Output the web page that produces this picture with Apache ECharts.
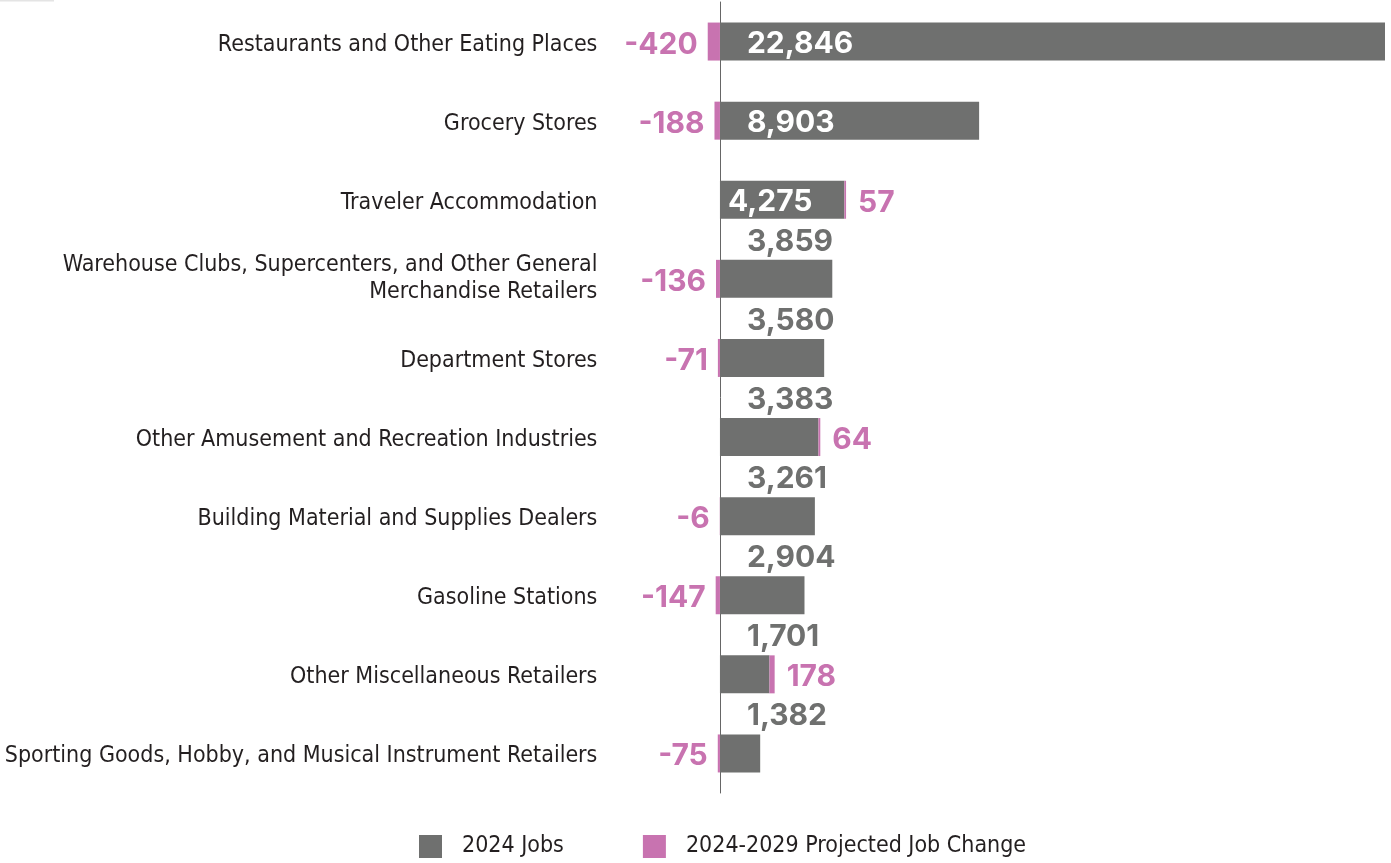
<!DOCTYPE html>
<html>
<head>
<meta charset="utf-8">
<script src="https://cdn.jsdelivr.net/npm/echarts@6/dist/echarts.min.js"></script>
<style>
  html, body { margin: 0; padding: 0; background: #fff; }
  #chart { width: 1391px; height: 863px; }
</style>
</head>
<body>
<div id="chart"></div>
<script>
// data
const categories = [
  'Restaurants and Other Eating Places',
  'Grocery Stores',
  'Traveler Accommodation',
  'Warehouse Clubs, Supercenters, and Other General\nMerchandise Retailers',
  'Department Stores',
  'Other Amusement and Recreation Industries',
  'Building Material and Supplies Dealers',
  'Gasoline Stations',
  'Other Miscellaneous Retailers',
  'Sporting Goods, Hobby, and Musical Instrument Retailers'
]
const jobs2024 = [22846, 8903, 4275, 3859, 3580, 3383, 3261, 2904, 1701, 1382]
const jobChange = [-420, -188, 57, -136, -71, 64, -6, -147, 178, -75]
const seriesNames = ['2024 Jobs', '2024-2029 Projected Job Change']

const GRAY = '#6f706f'
const PINK = '#c873b0'
const labelFont = 'Inter'
const catFont = '"Noto Sans Condensed", "DejaVu Sans Condensed", "Roboto"'

const fmt = v => v.toLocaleString('en-US')

// big bars get the number inside, small ones above the bar
const jobsData = jobs2024.map(v => {
  let label
  if (v > 8000) {
    label = { position: [27, '50%'], color: '#fff', offset: [0, 2] }
  } else if (v > 4000) {
    label = { position: [8, '50%'], color: '#fff', offset: [0, 2] }
  } else {
    label = { position: [27, -18], color: GRAY }
  }
  return { value: v, label }
})

const changeData = jobChange.map(v => ({
  value: v,
  label: { position: v < 0 ? 'left' : 'right', distance: v < 0 ? 10 : 12 }
}))

const chart = echarts.init(document.getElementById('chart'))

chart.setOption({
  animation: false,
  backgroundColor: '#fff',
  graphic: [
    { type: 'rect', left: 0, top: 0, shape: { width: 54, height: 1.5 }, style: { fill: '#e4e4e4' } }
  ],
  grid: {
    left: 705.4,
    right: 6,
    top: 2,
    bottom: 70,
    outerBoundsMode: 'none'
  },
  legend: {
    data: seriesNames,
    left: 414,
    top: 830,
    icon: 'rect',
    itemWidth: 23,
    itemHeight: 23,
    itemGap: 79,
    textStyle: {
      fontFamily: catFont,
      fontSize: 23,
      color: '#231f20',
      padding: [2, 0, 0, 15]
    }
  },
  xAxis: {
    type: 'value',
    min: -500,
    max: 22846,
    show: false
  },
  yAxis: {
    type: 'category',
    data: categories,
    inverse: true,
    axisLine: { show: true, onZero: true, lineStyle: { color: '#666', width: 1 } },
    axisTick: { show: false },
    axisLabel: {
      margin: 108,
      fontFamily: catFont,
      fontSize: 23,
      color: '#231f20',
      lineHeight: 27,
      // single-line names sit ~3px below the bar centre in the original
      formatter: v => (v.indexOf('\n') < 0 ? '{a|' + v + '}' : v),
      rich: {
        a: {
          fontFamily: catFont,
          fontSize: 23,
          color: '#231f20',
          lineHeight: 21,
          padding: [6, 0, 0, 0]
        }
      }
    }
  },
  series: [
    {
      name: seriesNames[0],
      type: 'bar',
      stack: 'total',
      barWidth: 38,
      data: jobsData,
      itemStyle: { color: GRAY },
      label: {
        show: true,
        formatter: p => fmt(p.value),
        align: 'left',
        verticalAlign: 'middle',
        fontFamily: labelFont,
        fontWeight: 700,
        fontSize: 30
      }
    },
    {
      name: seriesNames[1],
      type: 'bar',
      stack: 'total',
      barWidth: 38,
      data: changeData,
      itemStyle: { color: PINK },
      label: {
        show: true,
        formatter: p => fmt(p.value),
        color: PINK,
        offset: [0, 3],
        fontFamily: labelFont,
        fontWeight: 700,
        fontSize: 30
      }
    }
  ]
})
</script>
</body>
</html>
